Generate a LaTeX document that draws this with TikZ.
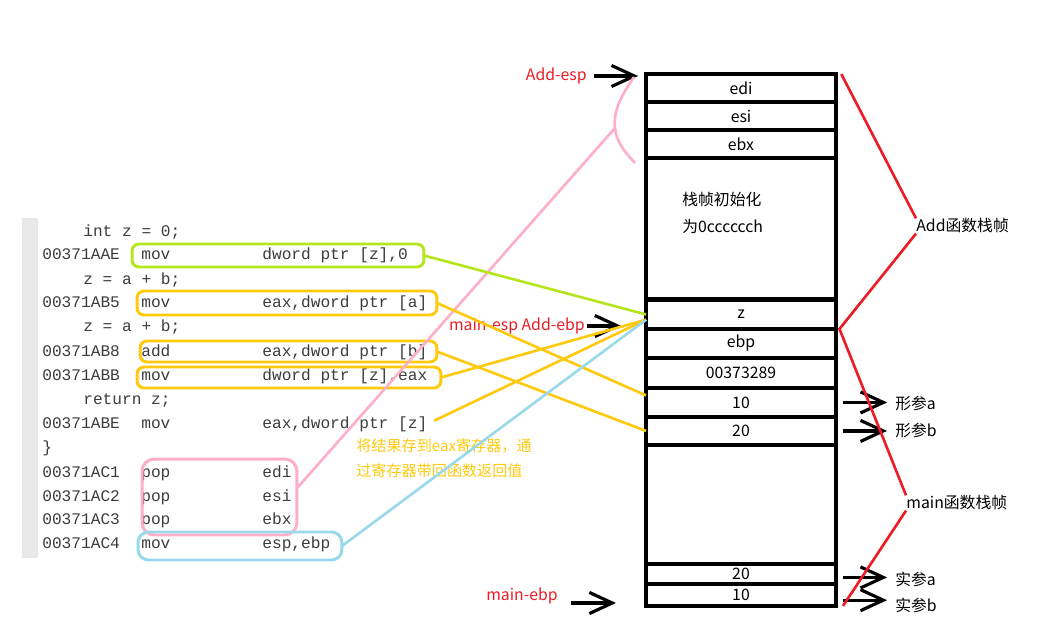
\documentclass[tikz,border=0pt]{standalone}
\usepackage{fontspec}
\setmonofont{Liberation Mono}
\newfontfamily\cjk{Noto Sans CJK SC}
\usetikzlibrary{positioning,arrows.meta}
\definecolor{limeg}{RGB}{181,230,29}
\definecolor{gold}{RGB}{255,201,14}
\definecolor{rose}{RGB}{255,174,201}
\definecolor{aqua}{RGB}{153,217,234}
\definecolor{pred}{RGB}{237,28,36}
\definecolor{codegray}{RGB}{60,60,60}

\begin{document}
\begin{tikzpicture}[x=0.02cm,y=-0.02cm,
  cell/.style={draw,line width=2.2pt,minimum width=3.8cm,inner sep=1pt,outer sep=0pt,font=\cjk\fontsize{9}{11}\selectfont},
  asm/.style={anchor=base west,inner sep=0pt,text=codegray,font=\ttfamily\fontsize{9.2}{11}\selectfont},
  hl/.style={draw=#1,line width=1.7pt,rounded corners=4pt,inner sep=0pt,outer sep=0pt},
  lbl/.style={anchor=west,inner sep=0pt,font=\cjk\fontsize{9}{11}\selectfont},
  redlbl/.style={anchor=east,inner sep=0pt,text=pred,font=\cjk\fontsize{9}{11}\selectfont},
  ptr/.style={line width=1.8pt,-{Straight Barb[length=13pt,width=12pt,line width=1.8pt]}},
  frame/.style={pred,line width=1.5pt},
  wire/.style={#1,line width=1.5pt}]
\useasboundingbox (0,0) rectangle (1052,628);

% code listing
\fill[black!9] (22,218) rectangle (38,558);
\node[asm] (src1) at (83,237) {int z = 0;};
\node[asm] (adr1) at (42,260) {00371AAE};
\node[asm] (op1) at (141,260) {mov};
\node[asm] (arg1) at (262,260) {dword ptr [z],0};
\node[asm] (src2) at (83,285) {z = a + b;};
\node[asm] (adr2) at (42,308) {00371AB5};
\node[asm] (op2) at (141,308) {mov};
\node[asm] (arg2) at (262,308) {eax,dword ptr [a]};
\node[asm] (src3) at (83,332) {z = a + b;};
\node[asm] (adr3) at (42,357) {00371AB8};
\node[asm] (op3) at (141,357) {add};
\node[asm] (arg3) at (262,357) {eax,dword ptr [b]};
\node[asm] (adr4) at (42,380) {00371ABB};
\node[asm] (op4) at (141,380) {mov};
\node[asm] (arg4) at (262,380) {dword ptr [z],eax};
\node[asm] (src4) at (83,404) {return z;};
\node[asm] (adr5) at (42,428) {00371ABE};
\node[asm] (op5) at (141,428) {mov};
\node[asm] (arg5) at (262,428) {eax,dword ptr [z]};
\node[asm] (endbr) at (42,452) {\}};
\node[asm] (adr6) at (42,477) {00371AC1};
\node[asm] (op6) at (141,477) {pop};
\node[asm] (arg6) at (262,477) {edi};
\node[asm] (adr7) at (42,501) {00371AC2};
\node[asm] (op7) at (141,501) {pop};
\node[asm] (arg7) at (262,501) {esi};
\node[asm] (adr8) at (42,524) {00371AC3};
\node[asm] (op8) at (141,524) {pop};
\node[asm] (arg8) at (262,524) {ebx};
\node[asm] (adr9) at (42,548) {00371AC4};
\node[asm] (op9) at (141,548) {mov};
\node[asm] (arg9) at (262,548) {esp,ebp};

% marked instructions
\node[hl=limeg,minimum width=5.84cm,minimum height=0.46cm] (gbox) at (278,255.5) {};
\node[hl=gold,minimum width=6cm,minimum height=0.48cm] (obox1) at (287,303) {};
\node[hl=gold,minimum width=5.94cm,minimum height=0.42cm] (obox2) at (288.5,351.5) {};
\node[hl=gold,minimum width=6.08cm,minimum height=0.42cm] (obox3) at (289,377.5) {};
\node[hl=rose,rounded corners=7pt,minimum width=3.1cm,minimum height=1.52cm] (pbox) at (219.5,497) {};
\node[hl=aqua,rounded corners=6pt,minimum width=4.08cm,minimum height=0.56cm] (cbox) at (240,546) {};

\node[lbl,text=gold,align=left,font=\cjk\fontsize{8.6}{14.2}\selectfont] (note) at (356,458) {将结果存到eax寄存器，通\\过寄存器带回函数返回值};

% stack
\node[cell,minimum height=0.56cm] (edi) at (741,88) {edi};
\node[cell,minimum height=0.56cm,below=0pt of edi] (esi) {esi};
\node[cell,minimum height=0.56cm,below=0pt of esi] (ebx) {ebx};
\node[cell,minimum height=2.84cm,line width=2.8pt,below=0pt of ebx] (init) {};
\node[cell,minimum height=0.58cm,below=0pt of init] (z) {z};
\node[cell,minimum height=0.58cm,below=0pt of z] (oldebp) {ebp};
\node[cell,minimum height=0.6cm,below=0pt of oldebp] (ret) {00373289};
\node[cell,minimum height=0.58cm,below=0pt of ret] (pa) {10};
\node[cell,minimum height=0.56cm,below=0pt of pa] (pb) {20};
\node[cell,minimum height=2.38cm,below=0pt of pb] (blank) {};
\node[cell,minimum height=0.4cm,below=0pt of blank] (aa) {20};
\node[cell,minimum height=0.44cm,below=0pt of aa] (ab) {10};
\node[lbl,align=left,font=\cjk\fontsize{9}{15.3}\selectfont] (initnote) at (682,212.5) {栈帧初始化\\为0cccccch};

% pointers
\node[redlbl] (addesp) at (587,76) {Add-esp};
\node[redlbl] (mainesp) at (585,326) {main-esp Add-ebp};
\node[redlbl] (mainebp) at (558,596) {main-ebp};
\draw[ptr,shorten <=4pt,shorten >=4.5pt] (addesp.east) -- (addesp.east -| edi.west);
\draw[ptr,shorten <=1pt,shorten >=14pt] (mainesp.east) -- (mainesp.east -| z.west);
\draw[ptr] ([shift={(13,7)}]mainebp.east) -- ++(45,0);

\node[lbl] (fa) at (895,403) {形参a};
\node[lbl] (fb) at (895,430) {形参b};
\node[lbl] (sa) at (895,579) {实参a};
\node[lbl] (sb) at (895,605) {实参b};
\draw[ptr,shorten <=4pt,shorten >=4.5pt] (pa.east) -- (pa.east -| fa.west);
\draw[ptr,shorten <=4pt,shorten >=4.5pt] (pb.east) -- (pb.east -| fb.west);
\draw[ptr,shorten <=4pt,shorten >=4.5pt] ([yshift=-2pt]aa.east) -- ([yshift=-2pt]aa.east -| sa.west);
\draw[ptr,shorten <=4pt,shorten >=4.5pt] ([yshift=-3pt]ab.east) -- ([yshift=-3pt]ab.east -| sb.west);

% frames
\node[lbl] (addframe) at (916,226) {Add函数栈帧};
\node[lbl] (mainframe) at (906,503) {main函数栈帧};
\draw[frame] ([xshift=3pt]edi.north east) -- (addframe.north west);
\draw[frame] (addframe.south west) -- ([xshift=2pt]z.south east) -- (mainframe.north west);
\draw[frame] (mainframe.south west) -- ([xshift=4pt]ab.south east);

% data flow
\coordinate (brtip) at (615,128);
\draw[wire=rose] (634,77) .. controls (622,95) and (613,110) .. (brtip) .. controls (617,145) and (628,155) .. (635,163);
\draw[wire=rose] ([yshift=5pt]pbox.east) -- (brtip);
\draw[wire=limeg] (gbox.east) -- (z.west);
\draw[wire=gold] (obox1.east) -- ([yshift=4pt]pa.west);
\draw[wire=gold] (obox2.east) -- (pb.west);
\draw[wire=gold] (obox3.east) -- ([yshift=-3pt]z.west);
\draw[wire=gold,shorten <=4pt] (arg5.east) -- ([yshift=-3pt]z.west);
\draw[wire=aqua] (cbox.east) -- ([yshift=-3pt]z.west);
\end{tikzpicture}
\end{document}
